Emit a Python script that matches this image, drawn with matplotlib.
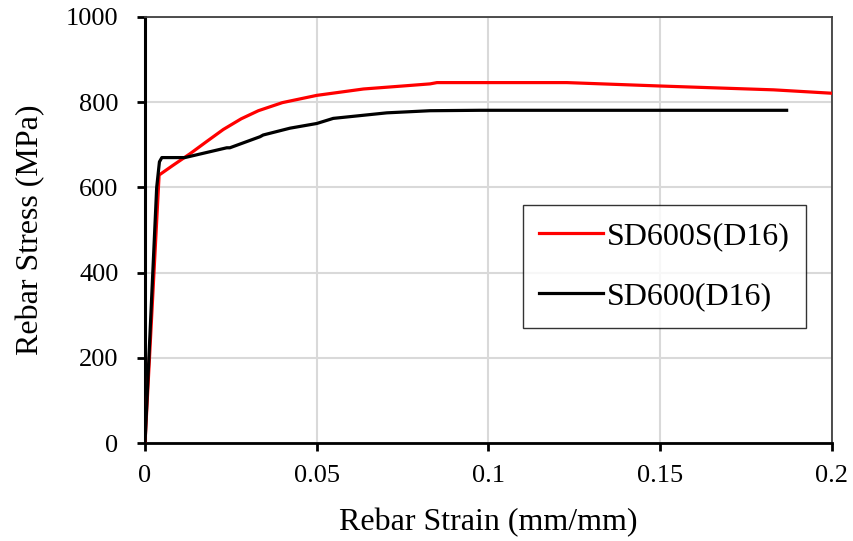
import matplotlib.pyplot as plt

# SD600S(D16) - red curve
strain_s = [0, 0.0041, 0.008, 0.0131, 0.018, 0.0228, 0.028, 0.033, 0.04,
            0.05, 0.0636, 0.075, 0.083, 0.085, 0.115, 0.1228, 0.15, 0.183, 0.2]
stress_s = [0, 629, 651, 679, 708, 736, 761, 780, 799,
            816, 831, 838, 843, 846, 846, 846, 838, 829, 821]

# SD600(D16) - black curve
strain_n = [0, 0.0034, 0.0042, 0.0049, 0.0116, 0.0238, 0.0247, 0.0335, 0.0344,
            0.0422, 0.05, 0.0548, 0.0704, 0.083, 0.0975, 0.1868]
stress_n = [0, 600, 660, 670, 670, 693, 693, 719, 723,
            739, 750, 762, 775, 780, 781, 781]

xticks = [0, 0.05, 0.1, 0.15, 0.2]
xticklabels = ['0', '0.05', '0.1', '0.15', '0.2']
yticks = [0, 200, 400, 600, 800, 1000]

plt.rcParams['font.family'] = ['Liberation Serif', 'DejaVu Serif']

fig = plt.figure(figsize=(8.54, 5.41), dpi=100)
ax = fig.add_axes([0.1698, 0.1811, 0.8044, 0.7875])

ax.plot(strain_s, stress_s, color='#ff0000', lw=2.3, label='SD600S(D16)', zorder=3)
ax.plot(strain_n, stress_n, color='black', lw=2.3, label='SD600(D16)', zorder=4)

ax.set_xlim(0, 0.2)
ax.set_ylim(0, 1000)
ax.set_xticks(xticks)
ax.set_xticklabels(xticklabels)
ax.set_yticks(yticks)
ax.grid(True, color='#d9d9d9', lw=1.5)
ax.set_axisbelow(True)

for side in ['top', 'right']:
    ax.spines[side].set_color('#404040')
    ax.spines[side].set_linewidth(1.3)
ax.spines['left'].set_linewidth(2.2)
ax.spines['bottom'].set_linewidth(2.0)
ax.tick_params(axis='both', direction='out', length=6, width=2, labelsize=19)
ax.tick_params(axis='x', pad=10)
ax.tick_params(axis='y', pad=13)

ax.set_xlabel('Rebar Strain (mm/mm)', fontsize=23, labelpad=15)
ax.set_ylabel('Rebar Stress (MPa)', fontsize=23, labelpad=15)

leg = ax.legend(loc='upper left', bbox_to_anchor=(0.5498, 0.5587), borderaxespad=0,
                fontsize=23, frameon=True, fancybox=False, edgecolor='black',
                handlelength=2.0, handletextpad=0.1, labelspacing=0.97,
                borderpad=0.52)
leg.get_frame().set_linewidth(1.0)

fig.savefig('out.png', dpi=100)
